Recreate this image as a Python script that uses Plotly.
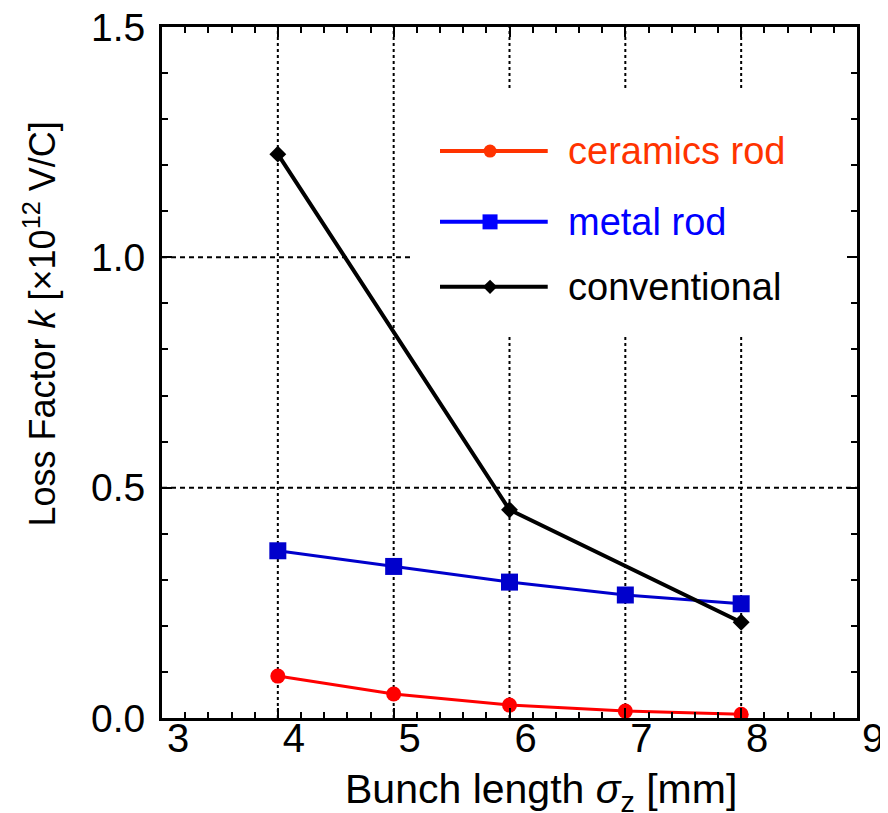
import plotly.graph_objects as go

# ---- data ----
bunch_length = [4, 5, 6, 7, 8]
ceramics_rod = [0.091, 0.052, 0.028, 0.015, 0.008]
metal_rod = [0.363, 0.329, 0.295, 0.267, 0.248]
conv_x = [4, 6, 8]
conventional = [1.224, 0.452, 0.208]

series_names = ["ceramics rod", "metal rod", "conventional"]
x_ticks = [3, 4, 5, 6, 7, 8, 9]
y_ticks = [0.0, 0.5, 1.0, 1.5]

FONT = "Liberation Sans, Arial, sans-serif"
X_RANGE = [3, 9]
Y_RANGE = [0, 1.5]

fig = go.Figure()

fig.add_trace(go.Scatter(x=bunch_length, y=ceramics_rod, mode="lines+markers",
                         line=dict(color="#FF0000", width=3),
                         marker=dict(symbol="circle", size=15, color="#FF0000"),
                         showlegend=False))
fig.add_trace(go.Scatter(x=bunch_length, y=metal_rod, mode="lines+markers",
                         line=dict(color="#0000CC", width=3),
                         marker=dict(symbol="square", size=17, color="#0000CC"),
                         showlegend=False))
fig.add_trace(go.Scatter(x=conv_x, y=conventional, mode="lines+markers",
                         line=dict(color="#000000", width=4),
                         marker=dict(symbol="diamond", size=13, color="#000000"),
                         showlegend=False))

# ---- manual legend on an overlay axis (0..1) ----
leg_rows = [0.8205, 0.718, 0.624]
leg_line_colors = ["#FF3300", "#0000FF", "#000000"]
leg_text_colors = ["#FF3300", "#0000FF", "#000000"]
leg_symbols = ["circle", "square", "diamond"]
leg_sizes = [13, 15, 11]
for yy, lc, sym, sz in zip(leg_rows, leg_line_colors, leg_symbols, leg_sizes):
    fig.add_trace(go.Scatter(x=[0.40, 0.555], y=[yy, yy], mode="lines",
                             line=dict(color=lc, width=4), xaxis="x2", yaxis="y2",
                             showlegend=False, hoverinfo="skip"))
    fig.add_trace(go.Scatter(x=[0.472], y=[yy], mode="markers",
                             marker=dict(symbol=sym, size=sz, color=lc), xaxis="x2", yaxis="y2",
                             showlegend=False, hoverinfo="skip"))

annotations = []
for yy, name, tc in zip(leg_rows, series_names, leg_text_colors):
    annotations.append(dict(x=0.581, y=yy, xref="paper", yref="paper", text=name,
                            showarrow=False, xanchor="left", yanchor="middle",
                            font=dict(family=FONT, size=38, color=tc)))

annotations.append(dict(x=0.546, y=-0.107, xref="paper", yref="paper",
                        text="Bunch length <i>σ</i><sub>z</sub> [mm]", showarrow=False,
                        xanchor="center", yanchor="middle",
                        font=dict(family=FONT, size=41, color="black")))
annotations.append(dict(x=-0.175, y=0.57, xref="paper", yref="paper",
                        text="Loss Factor <i>k</i> [×10<sup>12</sup> V/C]", showarrow=False,
                        textangle=-90, xanchor="center", yanchor="middle",
                        font=dict(family=FONT, size=36, color="black")))

# ---- grid drawn as shapes so the legend panel can mask it ----
shapes = []
for xv in x_ticks[1:-1]:
    shapes.append(dict(type="line", xref="x", yref="y", x0=xv, x1=xv, y0=Y_RANGE[0], y1=Y_RANGE[1],
                       line=dict(color="black", width=2, dash="3px,3px"), layer="below"))
for yv in y_ticks[1:-1]:
    shapes.append(dict(type="line", xref="x", yref="y", x0=X_RANGE[0], x1=X_RANGE[1], y0=yv, y1=yv,
                       line=dict(color="black", width=2, dash="5px,4px"), layer="below"))
# white legend panel
shapes.append(dict(type="rect", xref="x", yref="y", x0=5.16, x1=9.0, y0=0.831, y1=1.363,
                   fillcolor="white", line=dict(width=0), layer="below"))

fig.update_layout(
    width=880, height=805,
    margin=dict(l=154, r=31, t=19, b=95),
    paper_bgcolor="white", plot_bgcolor="white",
    font=dict(family=FONT, color="black"),
    annotations=annotations, shapes=shapes,
    xaxis=dict(range=X_RANGE, tickvals=x_ticks, ticktext=[str(v) for v in x_ticks],
               automargin=False, ticklabeloverflow="allow",
               showline=True, linecolor="black", linewidth=3, mirror="allticks",
               ticks="inside", ticklen=10, tickwidth=2, tickcolor="black",
               minor=dict(dtick=0.2, ticks="inside", ticklen=6, tickwidth=2, tickcolor="black", showgrid=False),
               showgrid=False, zeroline=False, tickfont=dict(size=40, family=FONT),
               ticklabelshift=16, ticklabelstandoff=-17),
    yaxis=dict(range=Y_RANGE, tickvals=y_ticks, ticktext=["%.1f" % v for v in y_ticks],
               automargin=False, ticklabeloverflow="allow",
               showline=True, linecolor="black", linewidth=3, mirror="allticks",
               ticks="inside", ticklen=10, tickwidth=2, tickcolor="black",
               minor=dict(dtick=0.1, ticks="inside", ticklen=6, tickwidth=2, tickcolor="black", showgrid=False),
               showgrid=False, zeroline=False, tickfont=dict(size=39, family=FONT), ticklabelstandoff=6),
    xaxis2=dict(range=[0, 1], overlaying="x", visible=False, anchor="y2", automargin=False),
    yaxis2=dict(range=[0, 1], overlaying="y", visible=False, anchor="x2", automargin=False),
)

fig.write_html("out.html")
